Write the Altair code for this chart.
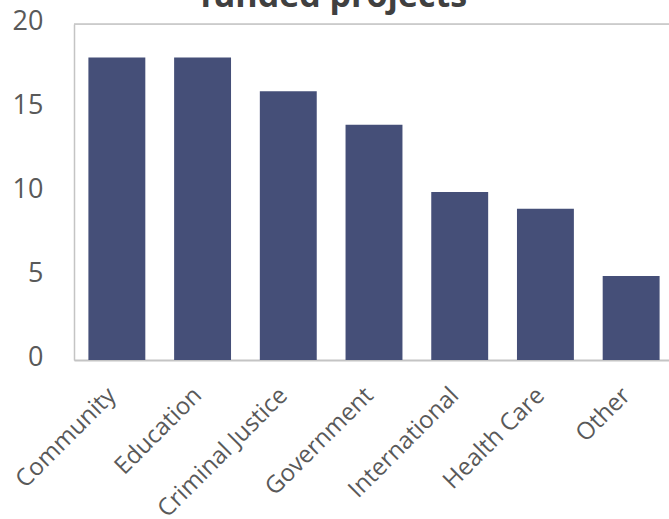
import altair as alt
import pandas as pd

categories = ["Community", "Education", "Criminal Justice", "Government",
              "International", "Health Care", "Other"]
values = [18, 18, 16, 14, 10, 9, 5]
y_ticks = [0, 5, 10, 15, 20]

df = pd.DataFrame({"category": categories, "count": values})

FONT = "Open Sans"
LABEL = "#595959"
FRAME = "#c4c4c4"

x_enc = alt.X(
    "category:N", sort=categories,
    scale=alt.Scale(range=[0, 600], paddingInner=0.336, paddingOuter=0.168),
    axis=alt.Axis(title=None, labelAngle=-45, labelAlign="right", labelBaseline="top",
                  labelPadding=23, labelOffset=-13, labelFontSize=24, labelFont=FONT,
                  labelColor=LABEL, ticks=False, domainColor=FRAME, domainWidth=2),
)
y_enc = alt.Y(
    "count:Q", scale=alt.Scale(domain=[y_ticks[0], y_ticks[-1]], nice=False),
    axis=alt.Axis(title=None, values=y_ticks, grid=False, ticks=False, labelFlush=False,
                  labelFontSize=27, labelFont=FONT, labelColor=LABEL, labelPadding=31,
                  labelOffset=-3, domainColor=FRAME, domainWidth=1.5),
)

bars = alt.Chart(df).mark_bar(color="#454F78").encode(x=x_enc, y=y_enc)

top_line = alt.Chart(pd.DataFrame({"top": [y_ticks[-1]]})).mark_rule(
    color=FRAME, strokeWidth=1.5
).encode(y=alt.Y("top:Q"))

chart = alt.layer(bars, top_line).properties(
    width=595, height=336,
    title=alt.TitleParams("funded projects", fontSize=34, fontWeight="bold",
                          color="#404040", font=FONT, anchor="middle", frame="group",
                          baseline="alphabetic", offset=0, dx=-38, dy=34),
    autosize=alt.AutoSizeParams(type="none"),
    padding={"left": 74, "top": 24, "right": 0, "bottom": 159},
).configure_view(stroke=None).configure(background="white")

chart.save("out.html", embed_options={"renderer": "svg", "actions": False})
